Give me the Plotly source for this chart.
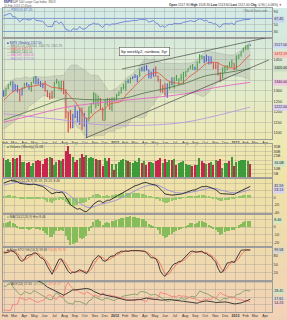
import numpy as np
import pandas as pd
import plotly.graph_objects as go
from plotly.subplots import make_subplots

W, H = 287, 320

# ---------------- weekly data, S&P 500 ($SPX), weeks ending Fridays from 3-Sep-2010 ----------------
prior_close = 1064.6
close = [
    1104.5, 1109.6, 1125.6, 1148.7, 1146.2, 1165.2, 1176.2, 1183.1, 1183.3, 1225.9, 1199.2, 1199.7, 1189.4,
    1224.7, 1240.4, 1243.9, 1256.8, 1257.6,
    1271.5, 1293.2, 1283.4, 1276.3, 1310.9, 1329.2, 1343.0, 1320.0, 1321.2, 1304.3, 1279.2, 1313.8,
    1332.4, 1328.2, 1319.7, 1337.4, 1363.6, 1340.2, 1337.8, 1333.3, 1331.1, 1300.2, 1271.0, 1271.5, 1268.5,
    1339.7, 1343.8, 1316.1, 1345.0, 1292.3, 1199.4, 1178.8, 1123.5, 1176.8, 1174.0, 1154.2, 1216.0, 1136.4,
    1131.4, 1155.5, 1224.6, 1238.3, 1285.1, 1253.2, 1263.9, 1215.7, 1158.7, 1244.3, 1255.2, 1219.7, 1265.3, 1257.6,
    1277.8, 1289.1, 1315.4, 1316.3, 1344.9, 1342.6, 1361.2, 1365.7, 1370.0, 1370.9, 1404.2, 1397.1, 1408.5,
    1398.1, 1370.3, 1378.5, 1403.4, 1369.1, 1353.4, 1295.2, 1317.8, 1278.0, 1325.7, 1342.8, 1335.0, 1362.2,
    1354.7, 1356.8, 1362.7, 1386.0, 1391.0, 1405.9, 1418.2, 1411.1, 1406.6, 1437.9, 1465.8, 1460.2, 1440.7,
    1460.9, 1428.6, 1433.2, 1411.9, 1414.2, 1379.9, 1359.9, 1409.2, 1416.2, 1418.1, 1413.6, 1430.2, 1402.4,
    1466.5, 1472.1, 1486.0, 1503.0, 1513.2, 1517.9, 1517.0,
]
high = [
    1105, 1110, 1131, 1149, 1158, 1167, 1184, 1189, 1196, 1227, 1227, 1207, 1206, 1225, 1241, 1247, 1260, 1262,
    1278, 1294, 1297, 1302, 1312, 1331, 1344, 1344, 1332, 1327, 1306, 1314, 1337, 1339, 1329, 1341, 1364,
    1370, 1359, 1346, 1334, 1346, 1303, 1292, 1298, 1340, 1357, 1344, 1347, 1346, 1307, 1200, 1208, 1190,
    1230, 1205, 1220, 1220, 1195, 1171, 1225, 1240, 1293, 1286, 1277, 1265, 1220, 1260, 1267, 1265, 1269, 1269,
    1286, 1297, 1316, 1333, 1346, 1354, 1363, 1368, 1378, 1372, 1405, 1414, 1420, 1422, 1399, 1391, 1405,
    1415, 1372, 1356, 1328, 1335, 1335, 1343, 1364, 1363, 1375, 1357, 1381, 1390, 1395, 1407, 1419, 1427, 1414,
    1438, 1474, 1467, 1465, 1471, 1464, 1464, 1434, 1434, 1434, 1388, 1410, 1420, 1421, 1438, 1449, 1431,
    1467, 1473, 1486, 1503, 1514, 1518, 1518.3,
]
low = [
    1040, 1091, 1107, 1122, 1135, 1131, 1159, 1159, 1177, 1178, 1194, 1173, 1185, 1174, 1220, 1232, 1242, 1249,
    1257, 1262, 1275, 1271, 1276, 1307, 1325, 1294, 1299, 1291, 1249, 1277, 1310, 1320, 1305, 1295, 1335,
    1330, 1329, 1318, 1312, 1296, 1270, 1258, 1262, 1268, 1333, 1306, 1296, 1283, 1168, 1101, 1120, 1122,
    1170, 1150, 1137, 1114, 1130, 1075, 1155, 1191, 1234, 1215, 1226, 1208, 1158, 1158, 1231, 1209, 1202, 1248,
    1257, 1275, 1288, 1306, 1300, 1336, 1335, 1355, 1360, 1340, 1366, 1392, 1391, 1397, 1358, 1358, 1366,
    1367, 1343, 1292, 1291, 1277, 1267, 1306, 1325, 1310, 1346, 1326, 1345, 1329, 1365, 1390, 1403, 1399, 1397,
    1396, 1429, 1451, 1431, 1438, 1425, 1428, 1403, 1403, 1373, 1343, 1359, 1385, 1398, 1412, 1412, 1398,
    1401, 1451, 1463, 1485, 1494, 1495, 1513.6,
]
volume_b = [
    17, 18, 22, 19, 19, 18, 19, 18, 19, 21, 20, 19, 12, 18, 18, 21, 11, 10,
    19, 21, 22, 22, 20, 21, 18, 22, 21, 22, 26, 18, 18, 17, 18, 13, 17, 19, 20, 19, 16, 21, 22, 24, 22,
    15, 18, 20, 19, 21, 30, 36, 27, 23, 18, 20, 22, 27, 24, 26, 22, 24, 22, 21, 20, 20, 13, 22, 19, 22, 16, 9,
    16, 18, 20, 21, 20, 19, 18, 17, 19, 18, 22, 17, 19, 15, 18, 18, 17, 19, 20, 22, 17, 21, 18, 20, 20, 21,
    15, 17, 18, 19, 16, 14, 15, 13, 14, 15, 22, 19, 17, 16, 17, 18, 14, 20, 19, 21, 11, 17, 17, 19, 24, 13,
    18, 19, 20, 20, 20, 19, 16,
]

# long moving averages (monthly points)
ma50_dates = ["2011-01-28", "2011-04-01", "2011-06-01", "2011-08-01", "2011-10-01", "2011-12-01", "2012-02-01",
              "2012-04-01", "2012-06-01", "2012-08-01", "2012-10-01", "2012-12-01", "2013-02-15"]
ma50_vals = [1160, 1195, 1230, 1262, 1258, 1257, 1265, 1290, 1310, 1335, 1370, 1385, 1405]
ma100_dates = ["2011-01-28", "2011-05-01", "2011-08-01", "2011-11-01", "2012-02-01", "2012-05-01",
               "2012-08-01", "2012-11-01", "2013-02-15"]
ma100_vals = [1150, 1185, 1220, 1240, 1255, 1268, 1285, 1315, 1340]
ma200_dates = ["2011-01-28", "2011-05-01", "2011-08-01", "2011-11-01", "2012-02-01", "2012-05-01",
               "2012-08-01", "2012-11-01", "2013-02-15"]
ma200_vals = [1190, 1175, 1160, 1140, 1135, 1137, 1150, 1180, 1222]

# hand-drawn trend lines (anchor date, price)
support_dates = ["2011-10-04", "2013-04-12"]
support_prices = [1074.8, 1446.0]
channel_dates = ["2012-01-23", "2013-04-12"]
channel_prices = [1403.5, 1555.0]

month_labels = ["Feb", "Mar", "Apr", "May", "Jun", "Jul", "Aug", "Sep", "Oct", "Nov", "Dec", "<b>2012</b>",
                "Feb", "Mar", "Apr", "May", "Jun", "Jul", "Aug", "Sep", "Oct", "Nov", "Dec", "<b>2013</b>",
                "Feb", "Mar", "Apr"]
month_ticks = pd.date_range("2011-02-01", "2013-04-01", freq="MS")

# ---------------- indicators ----------------
dates = pd.date_range("2010-09-03", periods=len(close), freq="W-FRI")
c = pd.Series(close, index=dates, dtype=float)
h = pd.Series(high, index=dates, dtype=float)
l = pd.Series(low, index=dates, dtype=float)
o = c.shift(1).fillna(prior_close)
v = pd.Series(volume_b, index=dates, dtype=float)

def ema(x, n):
    return x.ewm(span=n, adjust=False).mean()

def wild(x, n=14):
    return x.ewm(alpha=1 / n, adjust=True, ignore_na=True).mean()

macd = ema(c, 12) - ema(c, 26)
signal = ema(macd, 9)
hist = macd - signal
ema13 = ema(c, 13)

delta = c.diff().fillna(c.iloc[0] - prior_close)
rsi = 100 - 100 / (1 + wild(delta.clip(lower=0)) / wild(-delta.clip(upper=0)))

ll = l.rolling(14, min_periods=1).min()
hh = h.rolling(14, min_periods=1).max()
fast_k = 100 * (c - ll) / (hh - ll)
slow_k = fast_k.rolling(3, min_periods=1).mean()
slow_d = slow_k.rolling(3, min_periods=1).mean()

pc = c.shift(1).fillna(prior_close)
tr = pd.concat([h - l, (h - pc).abs(), (l - pc).abs()], axis=1).max(axis=1)
up = h.diff().fillna(0)
dn = (-l.diff()).fillna(0)
pdm = pd.Series(np.where((up > dn) & (up > 0), up, 0.0), index=dates)
ndm = pd.Series(np.where((dn > up) & (dn > 0), dn, 0.0), index=dates)
atr = wild(tr)
pdi = 100 * wild(pdm) / atr
ndi = 100 * wild(ndm) / atr
dx = 100 * (pdi - ndi).abs() / (pdi + ndi)
dx.iloc[:14] = np.nan
adx = wild(dx)

ma20 = c.rolling(20).mean()
sd20 = c.rolling(20).std(ddof=0)
bb_up = ma20 + 2 * sd20
bb_lo = ma20 - 2 * sd20
ma10 = c.rolling(10).mean()

d_ema = ema13.diff()
d_hist = hist.diff()
impulse = np.where((d_ema > 0) & (d_hist > 0), "g", np.where((d_ema < 0) & (d_hist < 0), "r", "b"))

vis = np.asarray(dates >= pd.Timestamp("2011-01-28"))
X = dates[vis]

def sl(s):
    return s[vis]

# ---------------- figure ----------------
fig = make_subplots(rows=7, cols=1, shared_xaxes=True, vertical_spacing=0.0)
BARW = 4.2 * 86400000

fig.add_trace(go.Scatter(x=X, y=sl(rsi), mode="lines", line=dict(color="#6c7fd8", width=0.9),
                         hoverinfo="skip"), row=1, col=1)
for lv in (70, 30):
    fig.add_hline(y=lv, row=1, col=1, line=dict(color="#7d9bcc", width=0.9))

fig.add_trace(go.Scatter(x=X, y=sl(bb_up), mode="lines", line=dict(color="rgba(120,130,120,0.45)", width=0.5),
                         hoverinfo="skip"), row=2, col=1)
fig.add_trace(go.Scatter(x=X, y=sl(bb_lo), mode="lines", line=dict(color="rgba(120,130,120,0.45)", width=0.5),
                         fill="tonexty", fillcolor="rgba(150,158,150,0.28)", hoverinfo="skip"), row=2, col=1)
fig.add_trace(go.Scatter(x=pd.to_datetime(ma200_dates), y=ma200_vals, mode="lines", line_shape="spline",
                         line=dict(color="#b89ae0", width=0.9), hoverinfo="skip"), row=2, col=1)
fig.add_trace(go.Scatter(x=pd.to_datetime(ma100_dates), y=ma100_vals, mode="lines", line_shape="spline",
                         line=dict(color="#e468c8", width=0.9), hoverinfo="skip"), row=2, col=1)
fig.add_trace(go.Scatter(x=pd.to_datetime(ma50_dates), y=ma50_vals, mode="lines", line_shape="spline",
                         line=dict(color="#5d7d55", width=0.9), hoverinfo="skip"), row=2, col=1)
fig.add_trace(go.Scatter(x=X, y=sl(ma10), mode="lines", line=dict(color="#e2604e", width=0.9),
                         hoverinfo="skip"), row=2, col=1)
for dts, prs in ((support_dates, support_prices), (channel_dates, channel_prices)):
    fig.add_trace(go.Scatter(x=pd.to_datetime(dts), y=prs, mode="lines", line=dict(color="#303030", width=0.6),
                             hoverinfo="skip"), row=2, col=1)
imp_vis = impulse[vis]
for key, col in (("g", "#38a038"), ("r", "#e23a3a"), ("b", "#3b4fe4")):
    m = imp_vis == key
    fig.add_trace(go.Ohlc(x=X[m], open=sl(o)[m], high=sl(h)[m], low=sl(l)[m], close=sl(c)[m],
                          increasing_line_color=col, decreasing_line_color=col, line_width=1.1,
                          tickwidth=0.3, hoverinfo="skip"), row=2, col=1)

up_week = np.asarray(c >= pc)[vis]
vcol = np.where(up_week, "#3f9a3c", "#c8254f")
fig.add_trace(go.Bar(x=X, y=sl(v), marker=dict(color=vcol, line=dict(width=0)), width=BARW,
                     hoverinfo="skip"), row=3, col=1)

fig.add_trace(go.Bar(x=X, y=sl(hist), marker=dict(color="#94c66a", line=dict(width=0)), width=BARW,
                     hoverinfo="skip"), row=4, col=1)
fig.add_trace(go.Scatter(x=X, y=sl(signal), mode="lines", line=dict(color="#9a8fd8", width=0.9),
                         hoverinfo="skip"), row=4, col=1)
fig.add_trace(go.Scatter(x=X, y=sl(macd), mode="lines", line=dict(color="#222222", width=0.9),
                         hoverinfo="skip"), row=4, col=1)

fig.add_trace(go.Bar(x=X, y=sl(hist), marker=dict(color="#86bd5a", line=dict(width=0)), width=BARW,
                     hoverinfo="skip"), row=5, col=1)

fig.add_hline(y=80, row=6, col=1, line=dict(color="#8f7f60", width=0.8))
fig.add_hline(y=20, row=6, col=1, line=dict(color="#8f7f60", width=0.8))
fig.add_hline(y=50, row=6, col=1, line=dict(color="#a89878", width=0.7, dash="dash"))
fig.add_trace(go.Scatter(x=X, y=sl(slow_d), mode="lines", line=dict(color="#f0705a", width=0.9),
                         hoverinfo="skip"), row=6, col=1)
fig.add_trace(go.Scatter(x=X, y=sl(slow_k), mode="lines", line=dict(color="#2a2a2a", width=0.9),
                         hoverinfo="skip"), row=6, col=1)

fig.add_trace(go.Scatter(x=X, y=sl(pdi), mode="lines", line=dict(color="#7f9f6a", width=0.9),
                         hoverinfo="skip"), row=7, col=1)
fig.add_trace(go.Scatter(x=X, y=sl(ndi), mode="lines", line=dict(color="#f0807a", width=0.9),
                         hoverinfo="skip"), row=7, col=1)
fig.add_trace(go.Scatter(x=X, y=sl(adx), mode="lines", line=dict(color="#2a2a2a", width=0.9),
                         hoverinfo="skip"), row=7, col=1)

# ---------------- layout ----------------
FONT = "Liberation Sans"
panels = [(8, 38), (38, 139), (144, 178), (178, 214), (214, 247), (247, 281), (281, 312)]
xdom = [3 / W, 272 / W]
grid = "rgba(140,140,140,0.30)"

def rng(series_list, pad):
    lo = min(float(np.nanmin(sl(s).values)) for s in series_list)
    hi = max(float(np.nanmax(sl(s).values)) for s in series_list)
    span = hi - lo
    return [lo - pad * span, hi + pad * span]

def steps(r, d):
    return [k * d for k in range(int(np.ceil(r[0] / d)), int(np.floor(r[1] / d)) + 1)]

macd_r = rng([macd, signal], 0.08)
hist_r = rng([hist], 0.08)
adx_r = rng([pdi, ndi], 0.05)

yranges = [[10, 102], [1070, 1551], [0, 38], macd_r, hist_r, [-8, 110], adx_r]
tickvals = [[10, 30, 50, 70, 90], list(range(1100, 1551, 50)), [5, 10, 15, 20, 25, 30, 35],
            steps(macd_r, 20), steps(hist_r, 10), [20, 50, 80], steps(adx_r, 10)]
tickfmt = [lambda t: "%d" % t] * 7
tickfmt[2] = lambda t: "%dB" % t

last = len(close) - 1
tags = {
    1: [(rsi.iloc[last], "%.2f" % rsi.iloc[last], "#c9d3f2", "#222222")],
    2: [(c.iloc[last], "%.2f" % c.iloc[last], "#d3dcf5", "#222222"),
        (ma10.iloc[last], "%.2f" % ma10.iloc[last], "#f6c8be", "#c03020"),
        (ma50_vals[-1], "%.2f" % ma50_vals[-1], "#c7dcc2", "#222222"),
        (ma100_vals[-1], "%.2f" % ma100_vals[-1], "#f4c6ea", "#222222"),
        (ma200_vals[-1], "%.2f" % ma200_vals[-1], "#ddd0f4", "#222222")],
    3: [(v.iloc[last], "%.1fB" % v.iloc[last], "#cfe5cb", "#222222")],
    4: [(macd.iloc[last], "%.2f" % macd.iloc[last], "#d6d6d6", "#222222"),
        (signal.iloc[last], "%.2f" % signal.iloc[last], "#d8d2f4", "#222222")],
    5: [(hist.iloc[last], "%.2f" % hist.iloc[last], "#d3e8c3", "#222222")],
    6: [(slow_k.iloc[last], "%.2f" % slow_k.iloc[last], "#d6d6d6", "#222222")],
    7: [(pdi.iloc[last], "%.2f" % pdi.iloc[last], "#d3e3c9", "#222222"),
        (adx.iloc[last], "%.2f" % adx.iloc[last], "#d6d6d6", "#222222"),
        (ndi.iloc[last], "%.2f" % ndi.iloc[last], "#f6cdca", "#222222")],
}

ann = []
GAP = 4.3
for i, (t, b) in enumerate(panels, start=1):
    r0, r1 = yranges[i - 1]

    def to_px(val, t=t, b=b, r0=r0, r1=r1):
        return b - (val - r0) / (r1 - r0) * (b - t)

    items = sorted([[to_px(float(val)), s, bg, fg] for val, s, bg, fg in tags[i]], key=lambda z: z[0])
    for k in range(1, len(items)):
        if items[k][0] - items[k - 1][0] < GAP:
            items[k][0] = items[k - 1][0] + GAP
    for py, s, bg, fg in items:
        ann.append(dict(x=272.5 / W, y=1 - py / H, xref="paper", yref="paper", text=s, showarrow=False,
                        xanchor="left", yanchor="middle", bgcolor=bg, borderpad=0.3,
                        font=dict(size=3.6, color=fg, family=FONT)))
    tv = tickvals[i - 1]
    tt = []
    for tk in tv:
        py = to_px(tk)
        near = any(abs(py - it[0]) < GAP for it in items) or py < t + 1.5 or py > b - 1.5
        tt.append("" if near else tickfmt[i - 1](tk))
    ya = "yaxis" if i == 1 else f"yaxis{i}"
    xa = "xaxis" if i == 1 else f"xaxis{i}"
    fig.layout[ya].update(domain=[1 - b / H, 1 - t / H], range=yranges[i - 1], side="right",
                          tickvals=tv, ticktext=tt,
                          showgrid=True, gridcolor=grid, gridwidth=0.5, zeroline=False,
                          showline=True, mirror=True, linecolor="#9c9c9c", linewidth=0.6,
                          ticks="", tickfont=dict(size=3.8, color="#333333", family=FONT))
    fig.layout[xa].update(domain=xdom, range=["2011-01-26", "2013-04-22"], type="date",
                          tickvals=month_ticks, ticktext=month_labels, showgrid=True, gridcolor=grid,
                          gridwidth=0.5, showline=True, mirror=True, linecolor="#9c9c9c", linewidth=0.6,
                          ticks="", tickfont=dict(size=3.6, color="#333333", family=FONT),
                          showticklabels=(i in (2, 7)), rangeslider=dict(visible=False))

# background gradient (page)
bg_stops = [(0, (246, 249, 247)), (8, (212, 236, 231)), (38, (214, 234, 219)), (90, (226, 235, 202)),
            (139, (238, 233, 180)), (178, (239, 227, 167)), (247, (239, 218, 173)), (320, (242, 210, 183))]
shapes = []
for y0 in range(0, H, 4):
    ym = y0 + 2
    rgb = bg_stops[-1][1]
    for (p0, c0), (p1, c1) in zip(bg_stops[:-1], bg_stops[1:]):
        if p0 <= ym <= p1:
            f = (ym - p0) / (p1 - p0)
            rgb = tuple(int(round(a + (b_ - a) * f)) for a, b_ in zip(c0, c1))
            break
    shapes.append(dict(type="rect", xref="paper", yref="paper", x0=0, x1=1, y0=1 - (y0 + 4) / H,
                       y1=1 - y0 / H, fillcolor="rgb(%d,%d,%d)" % rgb, line=dict(width=0), layer="below"))
shapes.append(dict(type="rect", xref="paper", yref="paper", x0=0, x1=1, y0=1 - 8 / H, y1=1,
                   fillcolor="#ffffff", line=dict(width=0), layer="below"))

def txt(x, y, s, size=3.6, color="#333333", anchor="left", bold=False):
    ann.append(dict(x=x / W, y=1 - y / H, xref="paper", yref="paper", text=("<b>%s</b>" % s) if bold else s,
                    showarrow=False, xanchor=anchor, yanchor="middle",
                    font=dict(size=size, color=color, family=FONT)))

txt(2, 2.2, "$SPX", 3.2, "#1d2a7a", bold=True)
txt(10, 2.2, "S&P 500 Large Cap Index  INDX", 3.0, "#555555")
txt(2, 5.6, "11-Feb-2013 12:45pm", 2.8, "#666666")
txt(284, 4.6, "<b>Open</b> %.2f <b>High</b> %.2f <b>Low</b> %.2f <b>Last</b> %.2f <b>Chg</b> %.2f (%.2f%%) <span style='color:#d02020'>▼</span>"
    % (o.iloc[last], h.iloc[last], l.iloc[last], c.iloc[last], c.iloc[last] - pc.iloc[last],
       100 * (c.iloc[last] - pc.iloc[last]) / pc.iloc[last]), 3.2, "#333333", anchor="right")
txt(270, 10.6, "©StockCharts.com", 2.9, "#666666", anchor="right")
txt(5, 10.4, "— RSI(14) %.2f" % rsi.iloc[last], 3.4, "#5a6fc8")

legend_lines = [
    ("■ $SPX (Weekly) %.2f" % c.iloc[last], "#3344aa"),
    ("— BB(20,2.0) %.2f, %.2f, %.2f" % (bb_up.iloc[last], ma20.iloc[last], bb_lo.iloc[last]), "#777777"),
    ("— MA(10) %.2f" % ma10.iloc[last], "#e2604e"),
    ("— MA(50) %.2f" % ma50_vals[-1], "#5d7d55"),
    ("— MA(100) %.2f" % ma100_vals[-1], "#e468c8"),
    ("— MA(200) %.2f" % ma200_vals[-1], "#a88ad8"),
]
for k, (s, colr) in enumerate(legend_lines):
    txt(5, 42.5 + 3.2 * k, s, 3.0, colr)

txt(5, 146.5, "<span style='color:#3f9a3c'>■</span> Volume (Weekly) %.1fB" % v.iloc[last], 3.2, "#444444")
txt(5, 180.5, "— MACD(12,26,9) %.2f, %.2f, %.2f" % (macd.iloc[last], signal.iloc[last], hist.iloc[last]),
    3.2, "#444444")
txt(5, 216.5, "<span style='color:#86bd5a'>■</span> MACD(12,26,9) Hist %.2f" % hist.iloc[last], 3.2, "#444444")
txt(5, 249.5, "■ Slow STO %%K(14,3) %.2f <span style='color:#f0705a'>%%D(3) %.2f</span>"
    % (slow_k.iloc[last], slow_d.iloc[last]), 3.2, "#444444")
txt(5, 283.5, "— ADX(14) %.2f <span style='color:#7f9f6a'>+DI %.2f</span> <span style='color:#f0807a'>-DI %.2f</span>"
    % (adx.iloc[last], pdi.iloc[last], ndi.iloc[last]), 3.2, "#444444")

ann.append(dict(x=144 / W, y=1 - 51 / H, xref="paper", yref="paper", text="Sp weekly2, rainbow, 3yr",
                showarrow=False, xanchor="center", yanchor="middle", bgcolor="#ffffff", bordercolor="#555555",
                borderwidth=0.6, borderpad=1.2, font=dict(size=4.2, color="#222222", family=FONT)))

fig.update_layout(width=W, height=H, margin=dict(l=0, r=0, t=0, b=0), showlegend=False,
                  paper_bgcolor="#ffffff", plot_bgcolor="rgba(0,0,0,0)", bargap=0,
                  font=dict(family=FONT, size=4, color="#333333"), shapes=list(fig.layout.shapes) + shapes,
                  annotations=ann, hovermode=False)
fig.update_xaxes(rangeslider_visible=False)

fig.write_html("out.html")
